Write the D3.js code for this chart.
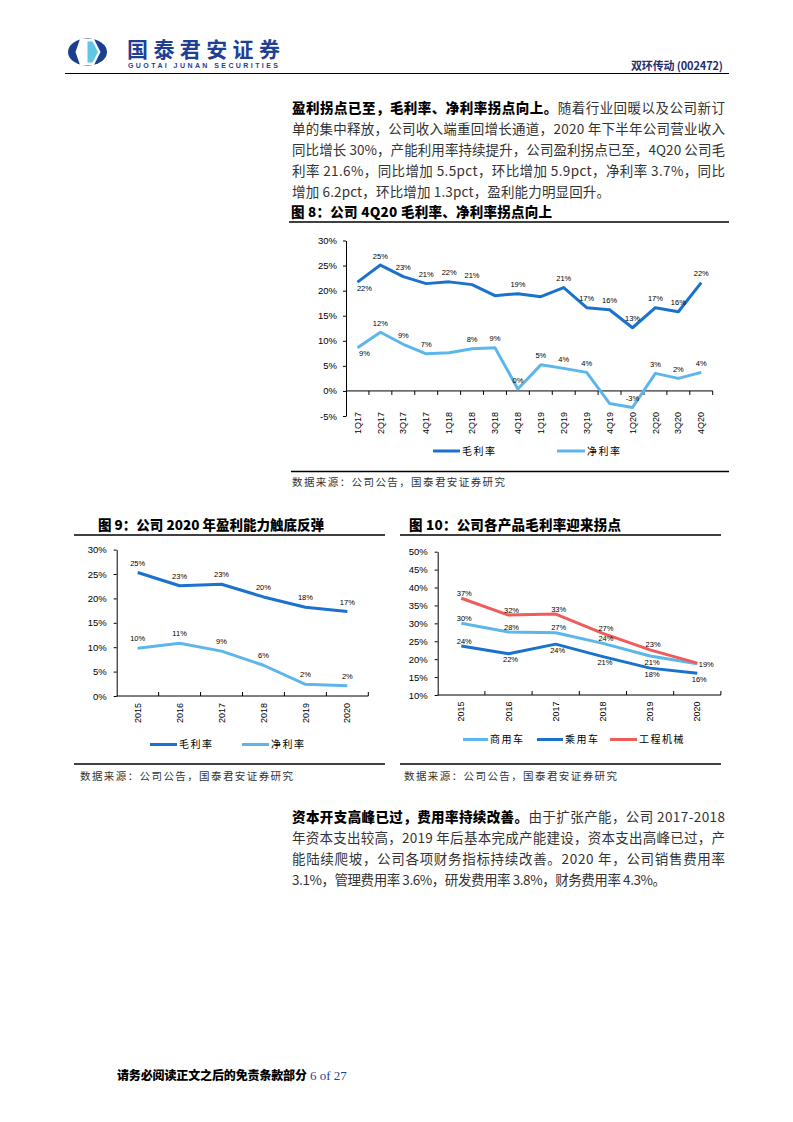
<!DOCTYPE html>
<html><head><meta charset="utf-8">
<script src="https://cdn.jsdelivr.net/npm/d3@7"></script>
<style>body{margin:0;background:#fff} svg{display:block}</style>
</head><body><div id="c"></div>
<script>
// ---------- DATA ----------
const quarters = ['1Q17','2Q17','3Q17','4Q17','1Q18','2Q18','3Q18','4Q18','1Q19','2Q19','3Q19','4Q19','1Q20','2Q20','3Q20','4Q20'];
const gross8 = [21.7,25.1,22.8,21.4,21.75,21.2,19.0,19.4,18.8,20.6,16.6,16.2,12.6,16.6,15.8,21.6];
const gross8Labels = ['22%','25%','23%','21%','22%','21%',null,'19%',null,'21%','17%','16%','13%','17%','16%','22%'];
const net8 = [8.6,11.7,9.3,7.4,7.6,8.4,8.6,0.4,5.2,4.5,3.7,-2.5,-3.3,3.5,2.5,3.7];
const net8Labels = ['9%','12%','9%','7%',null,'8%','9%','0%','5%','4%','4%',null,'-3%','3%','2%','4%'];
const yTicks8 = [-5,0,5,10,15,20,25,30];

const years = ['2015','2016','2017','2018','2019','2020'];
const gross9 = [25.3,22.6,22.9,20.3,18.2,17.3];
const gross9Labels = ['25%','23%','23%','20%','18%','17%'];
const net9 = [9.8,10.8,9.2,6.3,2.4,2.1];
const net9Labels = ['10%','11%','9%','6%','2%','2%'];
const yTicks9 = [0,5,10,15,20,25,30];

const commercial10 = [30.0,27.6,27.4,24.4,20.9,18.7];
const commercial10Labels = ['30%','28%','27%','24%','21%',null];
const passenger10 = [23.7,21.5,24.2,20.7,17.5,16.1];
const passenger10Labels = ['24%','22%','24%','21%','18%','16%'];
const machinery10 = [37.0,32.3,32.6,27.2,22.6,18.9];
const machinery10Labels = ['37%','32%','33%','27%','23%','19%'];
const yTicks10 = [10,15,20,25,30,35,40,45,50];

// ---------- STYLE ----------
const DARK = '#1a72cc', LIGHT = '#5cb6ec', RED = '#f05b5b';
const CJK = '"Noto Sans CJK SC","Noto Sans",sans-serif';
const LAT = '"Liberation Sans",Arial,sans-serif';

const svg = d3.select('#c').append('svg').attr('width',793).attr('height',1122);
svg.append('rect').attr('width',793).attr('height',1122).attr('fill','#fff');

// ---------- HEADER ----------
const hg = svg.append('g');
hg.append('ellipse').attr('cx',87.5).attr('cy',52).attr('rx',19.5).attr('ry',13.5).attr('fill','#1b3f8f');
hg.append('polygon').attr('points','80,39 94,39 100.5,52 94,65 80,65 75.5,52').attr('fill','#fff');
hg.append('polygon').attr('points','87.5,41.5 92.5,41.5 98,52 92.5,62.5 87.5,62.5').attr('fill','#5ec6e6');
hg.append('text').attr('x',127).attr('y',56.5).attr('font-family',CJK).attr('font-weight',700)
  .attr('font-size',21).attr('fill','#1f3f94').attr('textLength',153).attr('lengthAdjust','spacing').text('国泰君安证券');
hg.append('text').attr('x',128).attr('y',67.5).attr('font-family',LAT).attr('font-weight',700)
  .attr('font-size',7).attr('fill','#1f3f94').attr('textLength',150).attr('lengthAdjust','spacing').text('GUOTAI JUNAN SECURITIES');
hg.append('text').attr('x',631).attr('y',70).attr('font-family',CJK).attr('font-weight',700)
  .attr('font-size',11).attr('fill','#1f2f6e').attr('textLength',92).attr('lengthAdjust','spacing').text('双环传动 (002472)');
hg.append('line').attr('x1',65).attr('x2',729).attr('y1',73.5).attr('y2',73.5).attr('stroke','#000').attr('stroke-width',1.2);

// ---------- PARAGRAPH HELPERS ----------
function para(lines, x, y0, lh, w) {
  lines.forEach((ln, i) => {
    const t = svg.append('text').attr('x',x).attr('y',y0 + i*lh).attr('font-family',CJK).attr('font-size',13.5);
    if (ln.w !== undefined) t.attr('textLength', ln.w).attr('lengthAdjust','spacing');
    else t.attr('textLength', w).attr('lengthAdjust','spacing');
    if (ln.b) t.append('tspan').attr('font-weight',900).attr('fill','#000').text(ln.b);
    if (ln.r) t.append('tspan').attr('fill','#333').text(ln.r);
  });
}
para([
  {b:'盈利拐点已至，毛利率、净利率拐点向上。', r:'随着行业回暖以及公司新订'},
  {r:'单的集中释放，公司收入端重回增长通道，2020 年下半年公司营业收入'},
  {r:'同比增长 30%，产能利用率持续提升，公司盈利拐点已至，4Q20 公司毛'},
  {r:'利率 21.6%，同比增加 5.5pct，环比增加 5.9pct，净利率 3.7%，同比'},
  {r:'增加 6.2pct，环比增加 1.3pct，盈利能力明显回升。', w:318}
], 292, 113, 20.9, 433);

para([
  {b:'资本开支高峰已过，费用率持续改善。', r:'由于扩张产能，公司 2017-2018'},
  {r:'年资本支出较高，2019 年后基本完成产能建设，资本支出高峰已过，产'},
  {r:'能陆续爬坡，公司各项财务指标持续改善。2020 年，公司销售费用率'},
  {r:'3.1%，管理费用率 3.6%，研发费用率 3.8%，财务费用率 4.3%。', w:374}
], 292, 821.5, 21.1, 433);

// titles / separators / sources
function title(x, y, txt, w) {
  svg.append('text').attr('x',x).attr('y',y).attr('font-family',CJK).attr('font-weight',900)
    .attr('font-size',13.5).attr('fill','#000').attr('textLength',w).attr('lengthAdjust','spacing').text(txt);
}
function sep(x1, x2, y) {
  svg.append('line').attr('x1',x1).attr('x2',x2).attr('y1',y).attr('y2',y).attr('stroke','#000').attr('stroke-width',1.3);
}
function source(x, y) {
  svg.append('text').attr('x',x).attr('y',y).attr('font-family',CJK).attr('font-size',10.5)
    .attr('fill','#333').attr('textLength',213).attr('lengthAdjust','spacing').text('数据来源：公司公告，国泰君安证券研究');
}
title(291, 217, '图 8：公司 4Q20 毛利率、净利率拐点向上', 261);
sep(289, 729, 222);
sep(291, 729, 471.5);
source(292, 486);

title(98, 530, '图 9：公司 2020 年盈利能力触底反弹', 226);
sep(74, 385, 535);
sep(74, 385, 764);
source(80, 779.5);

title(409, 530, '图 10：公司各产品毛利率迎来拐点', 212);
sep(400, 721, 535);
sep(400, 721, 764);
source(404, 779.5);

// ---------- GENERIC LINE CHART ----------
function lineChart(cfg) {
  const g = svg.append('g');
  const y = d3.scaleLinear().domain(cfg.domain).range([cfg.yBottom, cfg.yTop]);
  const x = d3.scaleBand().domain(cfg.cats).range([cfg.x0, cfg.x1]).padding(0);
  const cx = c => x(c) + x.bandwidth()/2;

  // y axis
  const ya = g.append('g').attr('transform',`translate(${cfg.x0},0)`)
    .call(d3.axisLeft(y).tickValues(cfg.ticks).tickFormat(d => d + '%').tickSize(3).tickSizeOuter(0).tickPadding(cfg.tickPad));
  ya.select('.domain').attr('stroke','#000').attr('stroke-width',1);
  ya.selectAll('.tick line').attr('stroke','#000');
  ya.selectAll('.tick text').attr('font-family',LAT).attr('font-size',9.5).attr('fill','#000');

  // x axis line with boundary ticks
  const ay = y(cfg.axisAt);
  g.append('line').attr('x1',cfg.x0).attr('x2',cfg.x1).attr('y1',ay).attr('y2',ay).attr('stroke','#000').attr('stroke-width',1);
  const bounds = cfg.cats.slice(1).map(c => x(c)).concat([cfg.x1]);
  g.selectAll('.xt').data(bounds).join('line')
    .attr('x1',d=>d).attr('x2',d=>d).attr('y1',ay).attr('y2',ay + cfg.tickDir*4)
    .attr('stroke','#000').attr('stroke-width',1);
  g.selectAll('.xl').data(cfg.cats).join('text')
    .attr('transform', d => `translate(${cx(d)},${cfg.catY}) rotate(-90)`)
    .attr('text-anchor','end').attr('dy','0.35em')
    .attr('font-family',LAT).attr('font-size',9).attr('fill','#000').text(d => d);

  // series
  const line = d3.line().x((d,i) => cx(cfg.cats[i])).y(d => y(d));
  cfg.series.forEach(s => {
    g.append('path').datum(s.values).attr('d',line).attr('fill','none')
      .attr('stroke',s.color).attr('stroke-width',3).attr('stroke-linejoin','round');
  });
  cfg.series.forEach(s => {
    s.values.forEach((v,i) => {
      const lab = s.labels[i];
      if (!lab) return;
      const p = cfg.place[s.place[i]];
      g.append('text').attr('x', cx(cfg.cats[i]) + p[0]).attr('y', y(v) + p[1])
        .attr('dy','0.35em').attr('text-anchor','middle')
        .attr('font-family',LAT).attr('font-size',7.5).attr('fill','#000').text(lab);
    });
  });

  // legend
  cfg.legend.forEach(l => {
    g.append('line').attr('x1',l.x).attr('x2',l.x + l.len).attr('y1',cfg.legY).attr('y2',cfg.legY)
      .attr('stroke',l.color).attr('stroke-width',3);
    g.append('text').attr('x',l.x + l.len + 2).attr('y',cfg.legY).attr('dy','0.36em')
      .attr('font-family',CJK).attr('font-size',10).attr('letter-spacing',1.5).attr('fill','#000').text(l.name);
  });
}

// Chart 8
lineChart({
  cats: quarters, x0: 346, x1: 712.7, domain: [-5, 30], yBottom: 416, yTop: 240.5,
  ticks: yTicks8, tickPad: 6, axisAt: 0, tickDir: 1, catY: 412,
  place: { a: [0, -9], b: [7, 6] },
  series: [
    { values: gross8, labels: gross8Labels, color: DARK, place: 'baaaaaaaaaaaaaaa' },
    { values: net8, labels: net8Labels, color: LIGHT, place: 'baaaaaaaaaaaaaaa' }
  ],
  legY: 451,
  legend: [ { name: '毛利率', color: DARK, x: 433, len: 27 }, { name: '净利率', color: LIGHT, x: 557, len: 28 } ]
});

// Chart 9
lineChart({
  cats: years, x0: 116.7, x1: 368.3, domain: [0, 30], yBottom: 696, yTop: 549.6,
  ticks: yTicks9, tickPad: 7, axisAt: 0, tickDir: -1, catY: 703,
  place: { a: [0, -9.5] },
  series: [
    { values: gross9, labels: gross9Labels, color: DARK, place: 'aaaaaa' },
    { values: net9, labels: net9Labels, color: LIGHT, place: 'aaaaaa' }
  ],
  legY: 744.5,
  legend: [ { name: '毛利率', color: DARK, x: 150, len: 27 }, { name: '净利率', color: LIGHT, x: 242, len: 27 } ]
});

// Chart 10
lineChart({
  cats: years, x0: 437.7, x1: 720.9, domain: [10, 50], yBottom: 695, yTop: 551.7,
  ticks: yTicks10, tickPad: 7, axisAt: 10, tickDir: -1, catY: 701.5,
  place: { a: [3, -5], b: [2, 6], r: [9, 1] },
  series: [
    { values: commercial10, labels: commercial10Labels, color: LIGHT, place: 'aaaabb' },
    { values: passenger10, labels: passenger10Labels, color: DARK, place: 'abbbbb' },
    { values: machinery10, labels: machinery10Labels, color: RED, place: 'aaaaar' }
  ],
  legY: 739.5,
  legend: [ { name: '商用车', color: LIGHT, x: 463, len: 25 }, { name: '乘用车', color: DARK, x: 537, len: 26 },
            { name: '工程机械', color: RED, x: 610, len: 27 } ]
});

// ---------- FOOTER ----------
svg.append('text').attr('x',117).attr('y',1080).attr('font-family',CJK).attr('font-weight',900)
  .attr('font-size',12).attr('fill','#000').attr('textLength',190).attr('lengthAdjust','spacing').text('请务必阅读正文之后的免责条款部分');
svg.append('text').attr('x',310).attr('y',1080).attr('font-family','"Liberation Serif","Times New Roman",serif')
  .attr('font-size',13).attr('fill','#1f3f94').text('6 of 27');
</script></body></html>
